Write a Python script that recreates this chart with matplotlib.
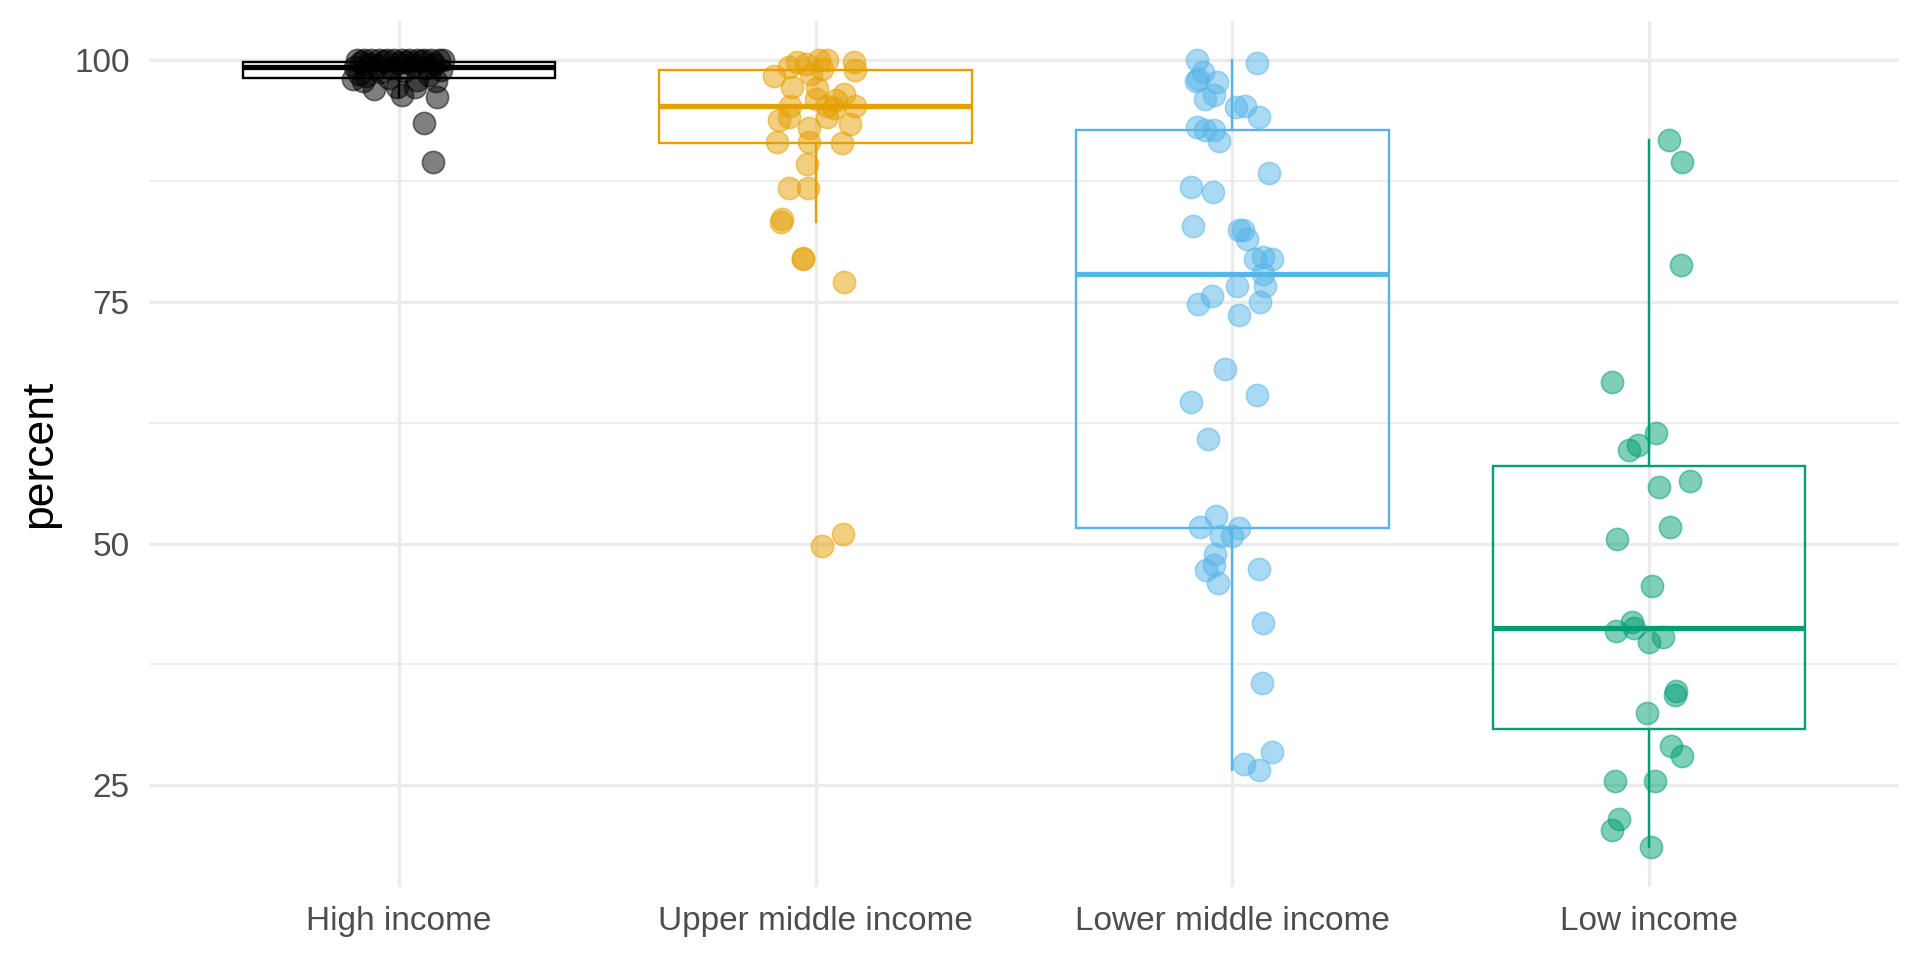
import matplotlib
matplotlib.use("Agg")
import matplotlib.pyplot as plt
import numpy as np

plt.rcParams['font.family'] = ['Liberation Sans', 'DejaVu Sans']

categories = ["High income", "Upper middle income", "Lower middle income", "Low income"]
colors = ["#000000", "#E69F00", "#56B4E9", "#009E73"]

# jitter offsets (in pixels of category spacing) and values
hi_offset = [-42, -35, -28, -20, -12, -5, 3, 10, 18, 25, 32, 40, 44, -38, -15, 8, 22, -30, 0, 35,
             -44, -22, 14, 42, -8, 28, -40, -33, -18, 5, 30, -46, -36, -10, 18, 37, -2, 16, 3, 38,
             -25, 25, 34]
hi_values = [100, 100, 100, 100, 100, 100, 100, 100, 100, 100, 100, 100, 100, 99.8, 99.9, 99.8, 99.9,
             99.6, 99.7, 99.6, 99.3, 99.4, 99.5, 99.0, 99.2, 99.2, 98.6, 98.3, 98.8, 98.9, 98.5, 98.0,
             97.8, 98.1, 97.9, 97.8, 97.2, 97.2, 96.4, 96.2, 97.0, 93.5, 89.5]

umi_offset = [-19, -27, -10, 3, 11, 6, 38, 39, -42, -5, -24, 1, 28, 0, 20, 11, 18, 39, -26, -37, -27,
              34, -7, 11, -39, -7, 26, -9, -27, -8, -34, -35, -13, -13, 28, 6, 27]
umi_values = [99.8, 99.3, 99.6, 100, 100, 99.1, 99.8, 99.0, 98.4, 98.6, 97.2, 97.1, 96.5, 96.0, 95.9,
              95.3, 95.0, 95.2, 95.3, 93.8, 94.1, 93.4, 93.0, 94.1, 91.5, 91.5, 91.4, 89.3, 86.8, 86.8,
              83.6, 83.3, 79.4, 79.5, 77.1, 49.7, 51.0]

lmi_offset = [-35, 25, -29, -36, -34, -15, -27, -18, 4, 13, 27, -35, -27, -18, -13, 37, -41, -19, -39,
              7, 11, 15, 23, 40, 31, 31, 33, 5, 28, -20, -34, 7, -7, -41, 25, -24, -16, -32, 7, -11,
              0, -17, -26, -18, -14, 27, 31, 30, 40, 12, 27]
lmi_values = [100.0, 99.7, 98.8, 97.8, 98.0, 97.7, 96.0, 96.4, 95.1, 95.3, 94.1, 93.1, 92.8, 92.8, 91.6,
              88.3, 86.9, 86.4, 82.8, 82.4, 82.4, 81.5, 79.4, 79.4, 79.6, 77.9, 76.6, 76.6, 75.0, 75.6,
              74.8, 73.6, 68.1, 64.6, 65.4, 60.8, 52.9, 51.7, 51.6, 50.8, 50.8, 48.9, 47.3, 47.8, 45.9,
              47.4, 41.8, 35.6, 28.5, 27.2, 26.6]

li_offset = [20, 33, 32, -37, 7, -11, -20, 10, 41, -32, 21, 3, -33, -17, -15, 0, 14, 27, 26, -2, 22, 33,
             -34, 6, -30, -37, 2]
li_values = [91.7, 89.5, 78.8, 66.7, 61.4, 60.2, 59.7, 55.9, 56.5, 50.5, 51.7, 45.6, 41.0, 41.9, 41.3,
             39.8, 40.3, 34.8, 34.3, 32.5, 29.1, 28.0, 25.4, 25.4, 21.5, 20.4, 18.6]

# box statistics
box_whislo = [96.2, 83.3, 26.6, 18.6]
box_q1 = [98.15, 91.4, 51.65, 30.8]
box_med = [99.3, 95.25, 77.9, 41.27]
box_q3 = [99.85, 99.0, 92.75, 58.0]
box_whishi = [100.0, 100.0, 100.0, 91.7]

offsets = [hi_offset, umi_offset, lmi_offset, li_offset]
values = [hi_values, umi_values, lmi_values, li_values]
PX_PER_UNIT = 416.7

fig = plt.figure(figsize=(9.6, 4.8), dpi=200)
ax = fig.add_axes([149 / 1920, 1 - 886.6 / 960, 1750 / 1920, (886.6 - 20.7) / 960])

grid_col = "#EBEBEB"
for s in ax.spines.values():
    s.set_visible(False)

for i, col in enumerate(colors):
    stats = [dict(whislo=box_whislo[i], q1=box_q1[i], med=box_med[i], q3=box_q3[i],
                  whishi=box_whishi[i], fliers=[])]
    ax.bxp(stats, positions=[i + 1], widths=0.75, showfliers=False, showcaps=False,
           patch_artist=True,
           boxprops=dict(facecolor="none", edgecolor=col, linewidth=0.85),
           whiskerprops=dict(color=col, linewidth=0.85),
           medianprops=dict(color=col, linewidth=1.9, solid_capstyle="butt"),
           zorder=3)

for i, col in enumerate(colors):
    xs = (i + 1) + np.asarray(offsets[i]) / PX_PER_UNIT
    ax.scatter(xs, values[i], s=64, color=col, alpha=0.5, edgecolors=col, linewidths=0.6, zorder=4)

allv = np.concatenate([np.asarray(v, float) for v in values])
lo, hi = allv.min(), allv.max()
pad = 0.05 * (hi - lo)
ax.set_ylim(lo - pad, hi + pad)
ax.set_xlim(0.4, 4.6)

ax.set_yticks([25, 50, 75, 100])
ax.set_yticks([37.5, 62.5, 87.5], minor=True)
ax.set_xticks([1, 2, 3, 4])
ax.set_xticklabels(categories)
ax.grid(True, which="major", color=grid_col, linewidth=1.2, zorder=0)
ax.grid(True, which="minor", axis="y", color=grid_col, linewidth=0.6, zorder=0)
ax.set_axisbelow(True)
ax.tick_params(axis="both", which="both", length=0, labelsize=12, labelcolor="#4D4D4D")
ax.tick_params(axis="y", pad=7)
ax.tick_params(axis="x", pad=7)
ax.set_ylabel("percent", fontsize=16, color="black", labelpad=5)

fig.savefig("out.png", dpi=200, facecolor="white")
